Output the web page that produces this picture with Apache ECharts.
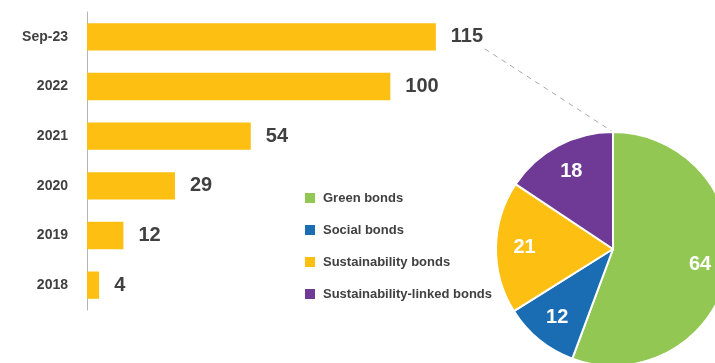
<!DOCTYPE html>
<html>
<head>
<meta charset="utf-8">
<style>
  html, body { margin: 0; padding: 0; background: #fff; }
  #chart { width: 715px; height: 363px; }
</style>
<script src="https://cdn.jsdelivr.net/npm/echarts@6/dist/echarts.min.js"></script>
</head>
<body>
<div id="chart"></div>
<script>
// Annual issuance (bar) and its breakdown by bond type (pie)
const years = ['Sep-23', '2022', '2021', '2020', '2019', '2018'];
const totals = [115, 100, 54, 29, 12, 4];

const bondTypes = ['Green bonds', 'Social bonds', 'Sustainability bonds', 'Sustainability-linked bonds'];
const bondValues = [64, 12, 21, 18];
const bondColors = ['#92C753', '#1A6CB3', '#FDBF12', '#6E3A96'];

const barColor = '#FDBF12';
const textColor = '#404040';
const fontFamily = '"Liberation Sans", Arial, Helvetica, sans-serif';

const pieCenter = [613, 249];
const pieRadius = 117;

const pieData = bondTypes.map((name, i) => ({
  name,
  value: bondValues[i],
  itemStyle: { color: bondColors[i] }
}));

const chart = echarts.init(document.getElementById('chart'), null, { renderer: 'canvas' });

const option = {
  animation: false,
  textStyle: { fontFamily },
  grid: { left: 87, top: 12, width: 455, height: 298, containLabel: false },
  xAxis: {
    type: 'value',
    min: 0,
    max: 150,
    show: false
  },
  yAxis: {
    type: 'category',
    data: years,
    inverse: true,
    axisLine: { show: true, lineStyle: { color: '#b4b4b4', width: 1 } },
    axisTick: { show: false },
    axisLabel: {
      margin: 19,
      color: textColor,
      fontSize: 14,
      fontWeight: 'bold',
      fontFamily
    },
    splitLine: { show: false }
  },
  legend: {
    orient: 'vertical',
    left: 298,
    top: 186,
    itemWidth: 12,
    itemHeight: 12,
    itemGap: 18,
    icon: 'rect',
    data: bondTypes,
    textStyle: { color: textColor, fontSize: 13, fontWeight: 'bold', fontFamily, padding: [0, 0, 0, 2] }
  },
  series: [
    {
      type: 'bar',
      data: totals,
      barCategoryGap: '45%',
      itemStyle: { color: barColor },
      label: {
        show: true,
        position: 'right',
        distance: 15,
        color: textColor,
        fontSize: 20,
        fontWeight: 'bold',
        fontFamily
      }
    },
    {
      // coloured slices
      type: 'pie',
      center: pieCenter,
      radius: [0, pieRadius],
      startAngle: 90,
      clockwise: true,
      data: pieData,
      itemStyle: { borderColor: '#fff', borderWidth: 2 },
      label: { show: false },
      labelLine: { show: false },
      emphasis: { disabled: true }
    },
    {
      // value labels placed toward the rim of each slice
      type: 'pie',
      center: pieCenter,
      radius: [pieRadius * 0.46, pieRadius],
      startAngle: 90,
      clockwise: true,
      silent: true,
      legendHoverLink: false,
      data: pieData.map(d => ({ name: d.name, value: d.value, itemStyle: { color: 'rgba(0,0,0,0)' } })),
      itemStyle: { borderWidth: 0 },
      label: {
        show: true,
        position: 'inside',
        formatter: '{c}',
        color: '#fff',
        fontSize: 20,
        fontWeight: 'bold',
        fontFamily
      },
      labelLine: { show: false },
      emphasis: { disabled: true }
    }
  ]
};

chart.setOption(option);

// Dashed connector from the latest total to the top of the pie
const barEnd = chart.convertToPixel({ gridIndex: 0 }, [totals[0], years[0]]);
chart.setOption({
  graphic: [{
    type: 'line',
    silent: true,
    shape: {
      x1: barEnd[0] + 49,
      y1: barEnd[1] + 12,
      x2: pieCenter[0],
      y2: pieCenter[1] - pieRadius
    },
    style: { stroke: '#a8a8a8', lineWidth: 1, lineDash: [5, 5] }
  }]
});
</script>
</body>
</html>
